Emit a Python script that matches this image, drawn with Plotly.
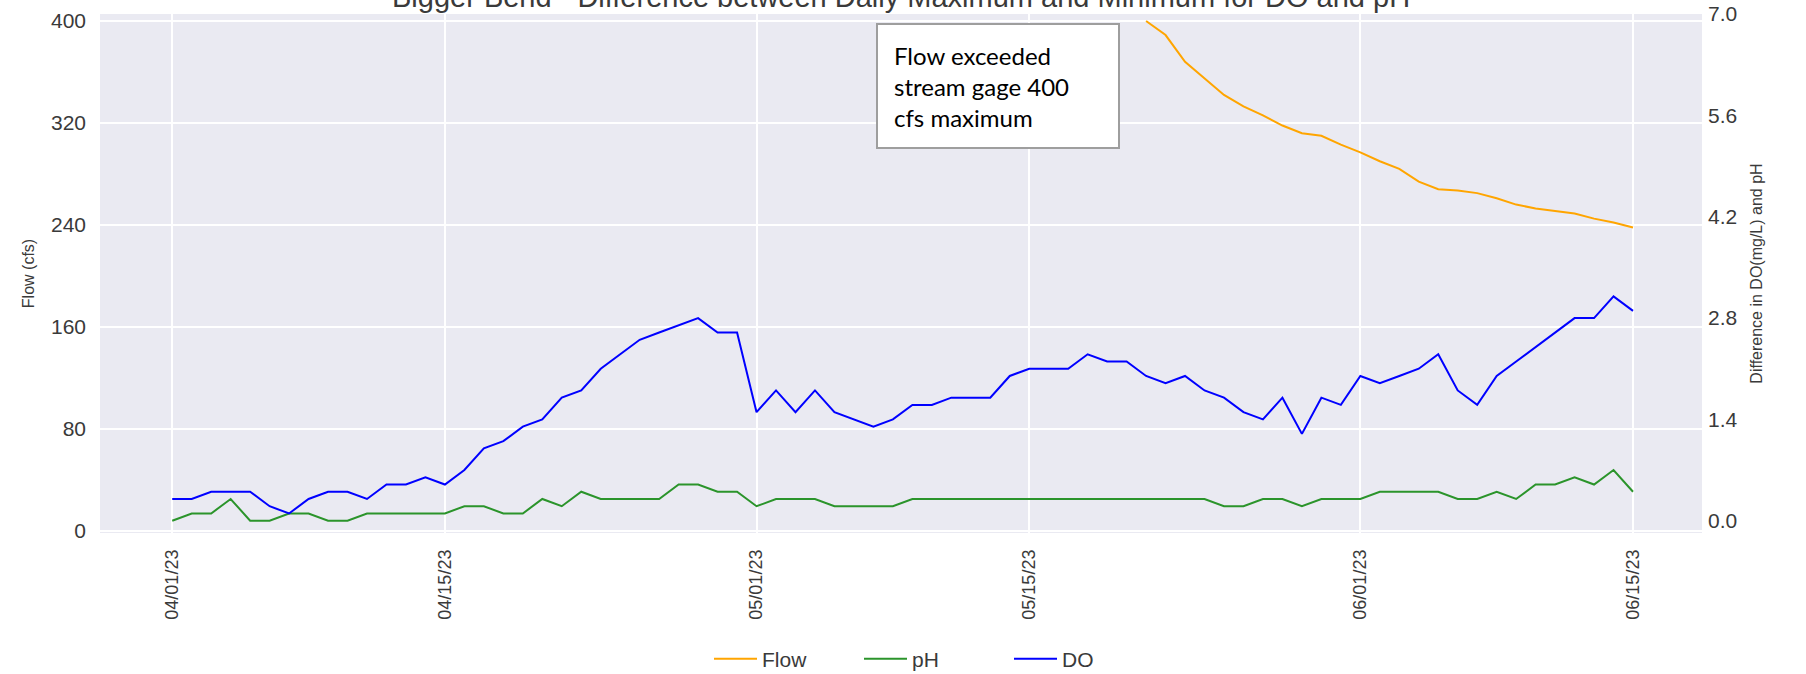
import pandas as pd
import plotly.graph_objects as go

# ---------------- data ----------------
dates = pd.date_range("2023-04-01", "2023-06-15", freq="D")

do_vals = [
    0.3, 0.3, 0.4, 0.4, 0.4, 0.2, 0.1, 0.3, 0.4, 0.4,        # 04/01-04/10
    0.3, 0.5, 0.5, 0.6, 0.5, 0.7, 1.0, 1.1, 1.3, 1.4,        # 04/11-04/20
    1.7, 1.8, 2.1, 2.3, 2.5, 2.6, 2.7, 2.8, 2.6, 2.6,        # 04/21-04/30
    1.5, 1.8, 1.5, 1.8, 1.5, 1.4, 1.3, 1.4, 1.6, 1.6,        # 05/01-05/10
    1.7, 1.7, 1.7, 2.0, 2.1, 2.1, 2.1, 2.3, 2.2, 2.2,        # 05/11-05/20
    2.0, 1.9, 2.0, 1.8, 1.7, 1.5, 1.4, 1.7, 1.2, 1.7, 1.6,   # 05/21-05/31
    2.0, 1.9, 2.0, 2.1, 2.3, 1.8, 1.6, 2.0, 2.2, 2.4,        # 06/01-06/10
    2.6, 2.8, 2.8, 3.1, 2.9,                                 # 06/11-06/15
]

ph_vals = [
    0.0, 0.1, 0.1, 0.3, 0.0, 0.0, 0.1, 0.1, 0.0, 0.0,        # 04/01-04/10
    0.1, 0.1, 0.1, 0.1, 0.1, 0.2, 0.2, 0.1, 0.1, 0.3,        # 04/11-04/20
    0.2, 0.4, 0.3, 0.3, 0.3, 0.3, 0.5, 0.5, 0.4, 0.4,        # 04/21-04/30
    0.2, 0.3, 0.3, 0.3, 0.2, 0.2, 0.2, 0.2, 0.3, 0.3,        # 05/01-05/10
    0.3, 0.3, 0.3, 0.3, 0.3, 0.3, 0.3, 0.3, 0.3, 0.3,        # 05/11-05/20
    0.3, 0.3, 0.3, 0.3, 0.2, 0.2, 0.3, 0.3, 0.2, 0.3, 0.3,   # 05/21-05/31
    0.3, 0.4, 0.4, 0.4, 0.4, 0.3, 0.3, 0.4, 0.3, 0.5,        # 06/01-06/10
    0.5, 0.6, 0.5, 0.7, 0.4,                                 # 06/11-06/15
]

flow_dates = pd.date_range("2023-05-21", "2023-06-15", freq="D")
flow_vals = [
    400, 389, 368, 355, 342, 333, 326, 318, 312, 310, 303,   # 05/21-05/31
    297, 290, 284, 274, 268, 267, 265, 261, 256, 253,        # 06/01-06/10
    251, 249, 245, 242, 238,                                 # 06/11-06/15
]

tick_dates = ["2023-04-01", "2023-04-15", "2023-05-01", "2023-05-15", "2023-06-01", "2023-06-15"]
tick_text = ["04/01/23", "04/15/23", "05/01/23", "05/15/23", "06/01/23", "06/15/23"]
flow_ticks = [0, 80, 160, 240, 320, 400]
diff_ticks = [0.0, 1.4, 2.8, 4.2, 5.6, 7.0]

title_text = "Bigger Bend - Difference between Daily Maximum and Minimum for DO and pH"
note_text = "Flow exceeded<br>stream gage 400<br>cfs maximum"

# ---------------- figure ----------------
FONT = "Liberation Sans, Arial, sans-serif"
TXT = "#3a3a3a"

fig = go.Figure()
fig.add_trace(go.Scatter(x=flow_dates, y=flow_vals, mode="lines", name="Flow",
                         line=dict(color="#FFA500", width=2), yaxis="y"))
fig.add_trace(go.Scatter(x=dates, y=ph_vals, mode="lines", name="pH",
                         line=dict(color="#2b942b", width=2), yaxis="y2"))
fig.add_trace(go.Scatter(x=dates, y=do_vals, mode="lines", name="DO",
                         line=dict(color="#0000FF", width=2), yaxis="y2"))

tick_font = dict(family=FONT, size=21, color=TXT)

fig.update_layout(
    width=1806, height=674,
    margin=dict(l=100, r=104, t=14, b=141, autoexpand=False),
    paper_bgcolor="white",
    plot_bgcolor="#EAEAF2",
    font=dict(family=FONT, color=TXT),
    showlegend=True,
    legend=dict(orientation="h", x=(695 - 16 - 100 + 30) / 1602, xanchor="left",
                y=(533 - 659) / 519, yanchor="middle",
                font=dict(family=FONT, size=21, color=TXT),
                bgcolor="rgba(0,0,0,0)", itemwidth=43, entrywidth=92),
    xaxis=dict(
        type="date", automargin=False,
        range=["2023-03-28 07:00", "2023-06-18 13:00"],
        tickmode="array", tickvals=tick_dates, ticktext=tick_text,
        tickangle=-90,
        tickfont=dict(family=FONT, size=18, color=TXT),
        ticklabelstandoff=12,
        showgrid=True, gridcolor="white", gridwidth=1.6,
        zeroline=False, showline=False, ticks="",
    ),
    yaxis=dict(
        automargin=False,
        range=[-1.6, 405.5],
        tickmode="array", tickvals=flow_ticks,
        tickfont=tick_font,
        ticklabelstandoff=13,
        showgrid=True, gridcolor="white", gridwidth=1.6,
        zeroline=False, showline=False, ticks="",
        title=dict(text="Flow (cfs)", standoff=12,
                   font=dict(family=FONT, size=16, color=TXT)),
    ),
    yaxis2=dict(
        automargin=False,
        overlaying="y", side="right",
        range=[-0.17, 7.002],
        tickmode="array", tickvals=diff_ticks, tickformat=".1f",
        tickfont=tick_font,
        ticklabelstandoff=5,
        showgrid=False, zeroline=False, showline=False, ticks="",
        title=dict(text="Difference in DO(mg/L) and pH", standoff=14,
                   font=dict(family=FONT, size=16, color=TXT)),
    ),
    annotations=[
        # chart title, partly cut off by the top edge as in the source image
        dict(text=title_text, xref="paper", yref="paper",
             x=0.5, y=(533 + 3) / 519, xanchor="center", yanchor="middle",
             showarrow=False, font=dict(family=FONT, size=29, color=TXT)),
        dict(text=note_text, xref="paper", yref="paper",
             x=(876 - 100) / 1602, y=(533 - 23) / 519,
             xanchor="left", yanchor="top", showarrow=False,
             align="left", valign="top",
             width=208, height=90, borderpad=16,
             bgcolor="white", bordercolor="#9e9e9e", borderwidth=2,
             font=dict(family="Lato, Carlito, sans-serif", size=24, color="black")),
    ],
)

fig.write_html(
    "out.html",
    config={"displayModeBar": False},
    post_script="document.body.style.margin='0';document.body.style.overflow='hidden';",
)
